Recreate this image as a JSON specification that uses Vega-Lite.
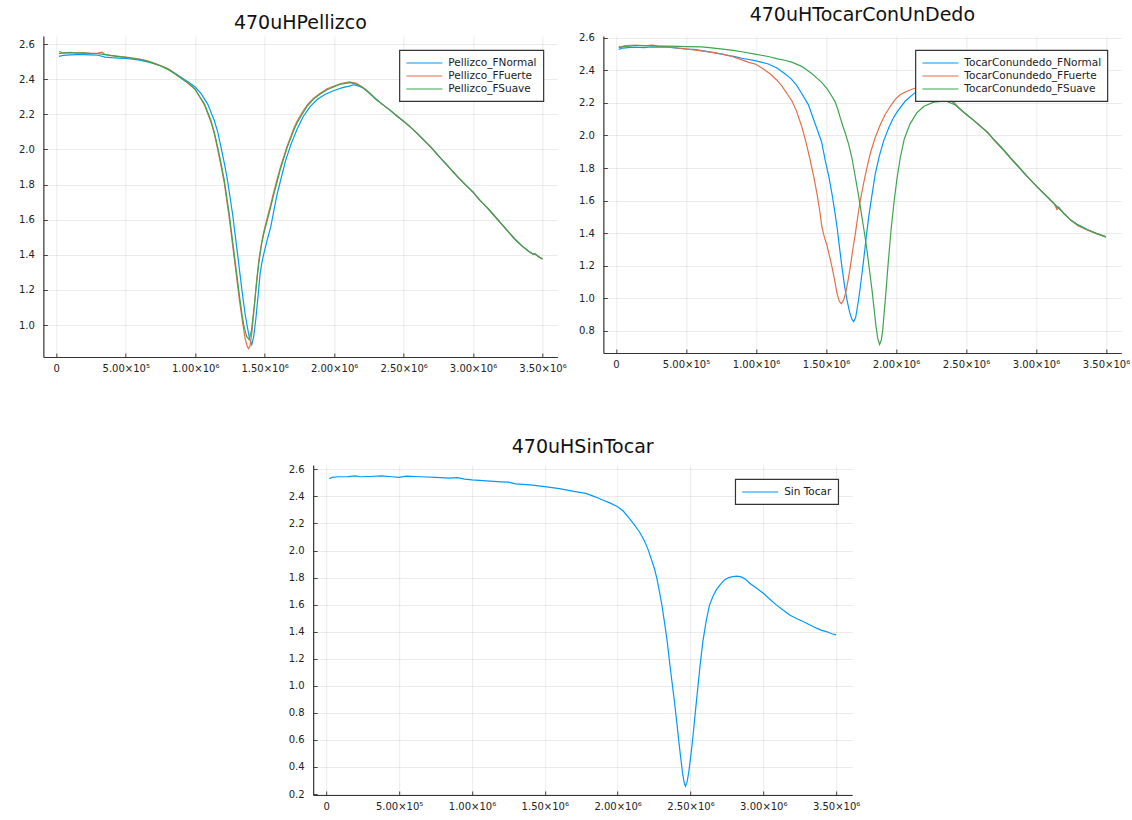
{
  "$schema": "https://vega.github.io/schema/vega-lite/v6.json",
  "padding": {"left": 18, "top": 5, "right": 0, "bottom": 0},
  "background": "white",
  "config": {
    "view": {"stroke": null},
    "font": "DejaVu Sans",
    "title": {"font": "DejaVu Sans", "fontSize": 19, "fontWeight": "normal", "color": "#111", "anchor": "middle"},
    "axis": {"labelFont": "DejaVu Sans", "labelFontSize": 10, "labelColor": "#222", "domainColor": "#333", "domainWidth": 1.2, "tickColor": "#444", "tickSize": -4, "gridColor": "#000", "gridOpacity": 0.08, "gridWidth": 1, "labelOverlap": false, "labelFlush": false},
    "axisX": {"labelPadding": 10},
    "axisY": {"labelPadding": 13},
    "legend": {"orient": "top-right", "offset": 14, "strokeColor": "#333", "fillColor": "white", "padding": 6, "symbolType": "M-1,0L5,0", "symbolSize": 144, "symbolStrokeWidth": 1.5, "labelFont": "DejaVu Sans", "labelFontSize": 10.5, "labelColor": "#222", "rowPadding": 0, "labelOffset": 29, "cornerRadius": 0, "strokeWidth": 1.2},
    "line": {"strokeWidth": 1.2}
  },
  "datasets": {
    "pellizco": [
      {"s":"Pellizco_FNormal","x":20000,"y":2.53},{"s":"Pellizco_FNormal","x":50000,"y":2.535},{"s":"Pellizco_FNormal","x":100000,"y":2.538},{"s":"Pellizco_FNormal","x":150000,"y":2.54},{"s":"Pellizco_FNormal","x":200000,"y":2.54},{"s":"Pellizco_FNormal","x":250000,"y":2.538},{"s":"Pellizco_FNormal","x":300000,"y":2.536},{"s":"Pellizco_FNormal","x":350000,"y":2.525},{"s":"Pellizco_FNormal","x":400000,"y":2.522},{"s":"Pellizco_FNormal","x":450000,"y":2.52},{"s":"Pellizco_FNormal","x":500000,"y":2.518},{"s":"Pellizco_FNormal","x":550000,"y":2.514},{"s":"Pellizco_FNormal","x":600000,"y":2.508},{"s":"Pellizco_FNormal","x":650000,"y":2.5},{"s":"Pellizco_FNormal","x":700000,"y":2.49},{"s":"Pellizco_FNormal","x":750000,"y":2.476},{"s":"Pellizco_FNormal","x":800000,"y":2.46},{"s":"Pellizco_FNormal","x":850000,"y":2.437},{"s":"Pellizco_FNormal","x":900000,"y":2.41},{"s":"Pellizco_FNormal","x":950000,"y":2.384},{"s":"Pellizco_FNormal","x":1000000,"y":2.355},{"s":"Pellizco_FNormal","x":1040000,"y":2.32},{"s":"Pellizco_FNormal","x":1090000,"y":2.258},{"s":"Pellizco_FNormal","x":1138000,"y":2.163},{"s":"Pellizco_FNormal","x":1162000,"y":2.1},{"s":"Pellizco_FNormal","x":1186000,"y":2.011},{"s":"Pellizco_FNormal","x":1210000,"y":1.92},{"s":"Pellizco_FNormal","x":1233000,"y":1.822},{"s":"Pellizco_FNormal","x":1269000,"y":1.632},{"s":"Pellizco_FNormal","x":1305000,"y":1.404},{"s":"Pellizco_FNormal","x":1340000,"y":1.176},{"s":"Pellizco_FNormal","x":1360000,"y":1.06},{"s":"Pellizco_FNormal","x":1376000,"y":0.987},{"s":"Pellizco_FNormal","x":1392000,"y":0.92},{"s":"Pellizco_FNormal","x":1407000,"y":0.888},{"s":"Pellizco_FNormal","x":1420000,"y":0.93},{"s":"Pellizco_FNormal","x":1436000,"y":1.03},{"s":"Pellizco_FNormal","x":1452000,"y":1.16},{"s":"Pellizco_FNormal","x":1467000,"y":1.29},{"s":"Pellizco_FNormal","x":1481000,"y":1.36},{"s":"Pellizco_FNormal","x":1495000,"y":1.41},{"s":"Pellizco_FNormal","x":1520000,"y":1.49},{"s":"Pellizco_FNormal","x":1543000,"y":1.556},{"s":"Pellizco_FNormal","x":1566000,"y":1.65},{"s":"Pellizco_FNormal","x":1590000,"y":1.746},{"s":"Pellizco_FNormal","x":1620000,"y":1.84},{"s":"Pellizco_FNormal","x":1650000,"y":1.935},{"s":"Pellizco_FNormal","x":1690000,"y":2.03},{"s":"Pellizco_FNormal","x":1733000,"y":2.115},{"s":"Pellizco_FNormal","x":1780000,"y":2.19},{"s":"Pellizco_FNormal","x":1829000,"y":2.245},{"s":"Pellizco_FNormal","x":1880000,"y":2.285},{"s":"Pellizco_FNormal","x":1940000,"y":2.315},{"s":"Pellizco_FNormal","x":2000000,"y":2.335},{"s":"Pellizco_FNormal","x":2060000,"y":2.352},{"s":"Pellizco_FNormal","x":2110000,"y":2.36},{"s":"Pellizco_FNormal","x":2140000,"y":2.368},{"s":"Pellizco_FNormal","x":2180000,"y":2.36},{"s":"Pellizco_FNormal","x":2220000,"y":2.345},{"s":"Pellizco_FNormal","x":2260000,"y":2.318},{"s":"Pellizco_FNormal","x":2300000,"y":2.288},{"s":"Pellizco_FNormal","x":2350000,"y":2.255},{"s":"Pellizco_FNormal","x":2400000,"y":2.225},{"s":"Pellizco_FNormal","x":2450000,"y":2.192},{"s":"Pellizco_FNormal","x":2500000,"y":2.16},{"s":"Pellizco_FNormal","x":2550000,"y":2.127},{"s":"Pellizco_FNormal","x":2600000,"y":2.09},{"s":"Pellizco_FNormal","x":2650000,"y":2.05},{"s":"Pellizco_FNormal","x":2700000,"y":2.01},{"s":"Pellizco_FNormal","x":2750000,"y":1.965},{"s":"Pellizco_FNormal","x":2800000,"y":1.922},{"s":"Pellizco_FNormal","x":2850000,"y":1.878},{"s":"Pellizco_FNormal","x":2900000,"y":1.835},{"s":"Pellizco_FNormal","x":2950000,"y":1.795},{"s":"Pellizco_FNormal","x":3000000,"y":1.757},{"s":"Pellizco_FNormal","x":3050000,"y":1.71},{"s":"Pellizco_FNormal","x":3100000,"y":1.67},{"s":"Pellizco_FNormal","x":3150000,"y":1.625},{"s":"Pellizco_FNormal","x":3200000,"y":1.58},{"s":"Pellizco_FNormal","x":3250000,"y":1.535},{"s":"Pellizco_FNormal","x":3300000,"y":1.49},{"s":"Pellizco_FNormal","x":3350000,"y":1.452},{"s":"Pellizco_FNormal","x":3400000,"y":1.42},{"s":"Pellizco_FNormal","x":3430000,"y":1.405},{"s":"Pellizco_FNormal","x":3450000,"y":1.404},{"s":"Pellizco_FNormal","x":3470000,"y":1.39},{"s":"Pellizco_FNormal","x":3500000,"y":1.376},
      {"s":"Pellizco_FFuerte","x":20000,"y":2.557},{"s":"Pellizco_FFuerte","x":50000,"y":2.548},{"s":"Pellizco_FFuerte","x":100000,"y":2.552},{"s":"Pellizco_FFuerte","x":150000,"y":2.55},{"s":"Pellizco_FFuerte","x":200000,"y":2.549},{"s":"Pellizco_FFuerte","x":250000,"y":2.547},{"s":"Pellizco_FFuerte","x":300000,"y":2.548},{"s":"Pellizco_FFuerte","x":330000,"y":2.553},{"s":"Pellizco_FFuerte","x":350000,"y":2.54},{"s":"Pellizco_FFuerte","x":400000,"y":2.534},{"s":"Pellizco_FFuerte","x":450000,"y":2.53},{"s":"Pellizco_FFuerte","x":500000,"y":2.525},{"s":"Pellizco_FFuerte","x":550000,"y":2.52},{"s":"Pellizco_FFuerte","x":600000,"y":2.514},{"s":"Pellizco_FFuerte","x":650000,"y":2.505},{"s":"Pellizco_FFuerte","x":700000,"y":2.493},{"s":"Pellizco_FFuerte","x":750000,"y":2.478},{"s":"Pellizco_FFuerte","x":800000,"y":2.46},{"s":"Pellizco_FFuerte","x":820000,"y":2.452},{"s":"Pellizco_FFuerte","x":850000,"y":2.434},{"s":"Pellizco_FFuerte","x":900000,"y":2.405},{"s":"Pellizco_FFuerte","x":950000,"y":2.376},{"s":"Pellizco_FFuerte","x":1000000,"y":2.34},{"s":"Pellizco_FFuerte","x":1033000,"y":2.298},{"s":"Pellizco_FFuerte","x":1067000,"y":2.252},{"s":"Pellizco_FFuerte","x":1114000,"y":2.155},{"s":"Pellizco_FFuerte","x":1140000,"y":2.08},{"s":"Pellizco_FFuerte","x":1162000,"y":2.0},{"s":"Pellizco_FFuerte","x":1186000,"y":1.905},{"s":"Pellizco_FFuerte","x":1210000,"y":1.805},{"s":"Pellizco_FFuerte","x":1245000,"y":1.61},{"s":"Pellizco_FFuerte","x":1281000,"y":1.38},{"s":"Pellizco_FFuerte","x":1317000,"y":1.15},{"s":"Pellizco_FFuerte","x":1340000,"y":1.02},{"s":"Pellizco_FFuerte","x":1360000,"y":0.92},{"s":"Pellizco_FFuerte","x":1376000,"y":0.875},{"s":"Pellizco_FFuerte","x":1385000,"y":0.866},{"s":"Pellizco_FFuerte","x":1395000,"y":0.88},{"s":"Pellizco_FFuerte","x":1410000,"y":0.97},{"s":"Pellizco_FFuerte","x":1424000,"y":1.09},{"s":"Pellizco_FFuerte","x":1442000,"y":1.25},{"s":"Pellizco_FFuerte","x":1460000,"y":1.38},{"s":"Pellizco_FFuerte","x":1478000,"y":1.47},{"s":"Pellizco_FFuerte","x":1495000,"y":1.535},{"s":"Pellizco_FFuerte","x":1520000,"y":1.615},{"s":"Pellizco_FFuerte","x":1543000,"y":1.685},{"s":"Pellizco_FFuerte","x":1566000,"y":1.76},{"s":"Pellizco_FFuerte","x":1590000,"y":1.83},{"s":"Pellizco_FFuerte","x":1614000,"y":1.9},{"s":"Pellizco_FFuerte","x":1638000,"y":1.96},{"s":"Pellizco_FFuerte","x":1662000,"y":2.02},{"s":"Pellizco_FFuerte","x":1686000,"y":2.07},{"s":"Pellizco_FFuerte","x":1710000,"y":2.12},{"s":"Pellizco_FFuerte","x":1733000,"y":2.16},{"s":"Pellizco_FFuerte","x":1770000,"y":2.21},{"s":"Pellizco_FFuerte","x":1805000,"y":2.252},{"s":"Pellizco_FFuerte","x":1850000,"y":2.29},{"s":"Pellizco_FFuerte","x":1900000,"y":2.32},{"s":"Pellizco_FFuerte","x":1950000,"y":2.345},{"s":"Pellizco_FFuerte","x":2000000,"y":2.36},{"s":"Pellizco_FFuerte","x":2050000,"y":2.375},{"s":"Pellizco_FFuerte","x":2110000,"y":2.384},{"s":"Pellizco_FFuerte","x":2160000,"y":2.376},{"s":"Pellizco_FFuerte","x":2200000,"y":2.357},{"s":"Pellizco_FFuerte","x":2250000,"y":2.325},{"s":"Pellizco_FFuerte","x":2300000,"y":2.286},{"s":"Pellizco_FFuerte","x":2350000,"y":2.255},{"s":"Pellizco_FFuerte","x":2400000,"y":2.225},{"s":"Pellizco_FFuerte","x":2450000,"y":2.192},{"s":"Pellizco_FFuerte","x":2500000,"y":2.16},{"s":"Pellizco_FFuerte","x":2550000,"y":2.127},{"s":"Pellizco_FFuerte","x":2600000,"y":2.088},{"s":"Pellizco_FFuerte","x":2650000,"y":2.05},{"s":"Pellizco_FFuerte","x":2700000,"y":2.01},{"s":"Pellizco_FFuerte","x":2750000,"y":1.965},{"s":"Pellizco_FFuerte","x":2800000,"y":1.922},{"s":"Pellizco_FFuerte","x":2850000,"y":1.878},{"s":"Pellizco_FFuerte","x":2900000,"y":1.835},{"s":"Pellizco_FFuerte","x":2950000,"y":1.795},{"s":"Pellizco_FFuerte","x":3000000,"y":1.757},{"s":"Pellizco_FFuerte","x":3050000,"y":1.71},{"s":"Pellizco_FFuerte","x":3100000,"y":1.67},{"s":"Pellizco_FFuerte","x":3150000,"y":1.625},{"s":"Pellizco_FFuerte","x":3200000,"y":1.58},{"s":"Pellizco_FFuerte","x":3250000,"y":1.535},{"s":"Pellizco_FFuerte","x":3300000,"y":1.49},{"s":"Pellizco_FFuerte","x":3350000,"y":1.452},{"s":"Pellizco_FFuerte","x":3400000,"y":1.42},{"s":"Pellizco_FFuerte","x":3430000,"y":1.405},{"s":"Pellizco_FFuerte","x":3450000,"y":1.403},{"s":"Pellizco_FFuerte","x":3470000,"y":1.39},{"s":"Pellizco_FFuerte","x":3500000,"y":1.376},
      {"s":"Pellizco_FSuave","x":20000,"y":2.545},{"s":"Pellizco_FSuave","x":50000,"y":2.55},{"s":"Pellizco_FSuave","x":100000,"y":2.551},{"s":"Pellizco_FSuave","x":150000,"y":2.548},{"s":"Pellizco_FSuave","x":200000,"y":2.55},{"s":"Pellizco_FSuave","x":250000,"y":2.546},{"s":"Pellizco_FSuave","x":300000,"y":2.545},{"s":"Pellizco_FSuave","x":350000,"y":2.54},{"s":"Pellizco_FSuave","x":400000,"y":2.534},{"s":"Pellizco_FSuave","x":450000,"y":2.528},{"s":"Pellizco_FSuave","x":500000,"y":2.524},{"s":"Pellizco_FSuave","x":550000,"y":2.519},{"s":"Pellizco_FSuave","x":600000,"y":2.512},{"s":"Pellizco_FSuave","x":650000,"y":2.503},{"s":"Pellizco_FSuave","x":700000,"y":2.49},{"s":"Pellizco_FSuave","x":750000,"y":2.475},{"s":"Pellizco_FSuave","x":800000,"y":2.457},{"s":"Pellizco_FSuave","x":850000,"y":2.432},{"s":"Pellizco_FSuave","x":900000,"y":2.405},{"s":"Pellizco_FSuave","x":950000,"y":2.377},{"s":"Pellizco_FSuave","x":1000000,"y":2.343},{"s":"Pellizco_FSuave","x":1033000,"y":2.3},{"s":"Pellizco_FSuave","x":1067000,"y":2.258},{"s":"Pellizco_FSuave","x":1114000,"y":2.163},{"s":"Pellizco_FSuave","x":1140000,"y":2.09},{"s":"Pellizco_FSuave","x":1162000,"y":2.011},{"s":"Pellizco_FSuave","x":1186000,"y":1.92},{"s":"Pellizco_FSuave","x":1210000,"y":1.822},{"s":"Pellizco_FSuave","x":1245000,"y":1.632},{"s":"Pellizco_FSuave","x":1281000,"y":1.404},{"s":"Pellizco_FSuave","x":1317000,"y":1.176},{"s":"Pellizco_FSuave","x":1337000,"y":1.06},{"s":"Pellizco_FSuave","x":1352000,"y":0.99},{"s":"Pellizco_FSuave","x":1370000,"y":0.935},{"s":"Pellizco_FSuave","x":1388000,"y":0.918},{"s":"Pellizco_FSuave","x":1405000,"y":0.97},{"s":"Pellizco_FSuave","x":1424000,"y":1.1},{"s":"Pellizco_FSuave","x":1442000,"y":1.24},{"s":"Pellizco_FSuave","x":1460000,"y":1.366},{"s":"Pellizco_FSuave","x":1478000,"y":1.46},{"s":"Pellizco_FSuave","x":1495000,"y":1.525},{"s":"Pellizco_FSuave","x":1520000,"y":1.6},{"s":"Pellizco_FSuave","x":1543000,"y":1.67},{"s":"Pellizco_FSuave","x":1566000,"y":1.745},{"s":"Pellizco_FSuave","x":1590000,"y":1.815},{"s":"Pellizco_FSuave","x":1614000,"y":1.89},{"s":"Pellizco_FSuave","x":1638000,"y":1.95},{"s":"Pellizco_FSuave","x":1662000,"y":2.01},{"s":"Pellizco_FSuave","x":1686000,"y":2.06},{"s":"Pellizco_FSuave","x":1710000,"y":2.11},{"s":"Pellizco_FSuave","x":1733000,"y":2.15},{"s":"Pellizco_FSuave","x":1770000,"y":2.2},{"s":"Pellizco_FSuave","x":1805000,"y":2.245},{"s":"Pellizco_FSuave","x":1850000,"y":2.285},{"s":"Pellizco_FSuave","x":1900000,"y":2.315},{"s":"Pellizco_FSuave","x":1950000,"y":2.34},{"s":"Pellizco_FSuave","x":2000000,"y":2.357},{"s":"Pellizco_FSuave","x":2050000,"y":2.372},{"s":"Pellizco_FSuave","x":2115000,"y":2.38},{"s":"Pellizco_FSuave","x":2160000,"y":2.372},{"s":"Pellizco_FSuave","x":2200000,"y":2.355},{"s":"Pellizco_FSuave","x":2250000,"y":2.322},{"s":"Pellizco_FSuave","x":2300000,"y":2.285},{"s":"Pellizco_FSuave","x":2350000,"y":2.255},{"s":"Pellizco_FSuave","x":2400000,"y":2.225},{"s":"Pellizco_FSuave","x":2450000,"y":2.192},{"s":"Pellizco_FSuave","x":2500000,"y":2.16},{"s":"Pellizco_FSuave","x":2550000,"y":2.127},{"s":"Pellizco_FSuave","x":2600000,"y":2.09},{"s":"Pellizco_FSuave","x":2650000,"y":2.05},{"s":"Pellizco_FSuave","x":2700000,"y":2.01},{"s":"Pellizco_FSuave","x":2750000,"y":1.965},{"s":"Pellizco_FSuave","x":2800000,"y":1.922},{"s":"Pellizco_FSuave","x":2850000,"y":1.878},{"s":"Pellizco_FSuave","x":2900000,"y":1.835},{"s":"Pellizco_FSuave","x":2950000,"y":1.795},{"s":"Pellizco_FSuave","x":3000000,"y":1.757},{"s":"Pellizco_FSuave","x":3050000,"y":1.71},{"s":"Pellizco_FSuave","x":3100000,"y":1.67},{"s":"Pellizco_FSuave","x":3150000,"y":1.625},{"s":"Pellizco_FSuave","x":3200000,"y":1.58},{"s":"Pellizco_FSuave","x":3250000,"y":1.535},{"s":"Pellizco_FSuave","x":3300000,"y":1.49},{"s":"Pellizco_FSuave","x":3350000,"y":1.452},{"s":"Pellizco_FSuave","x":3400000,"y":1.42},{"s":"Pellizco_FSuave","x":3430000,"y":1.405},{"s":"Pellizco_FSuave","x":3450000,"y":1.402},{"s":"Pellizco_FSuave","x":3470000,"y":1.39},{"s":"Pellizco_FSuave","x":3500000,"y":1.376}
    ],
    "tocar": [
      {"s":"TocarConundedo_FNormal","x":20000,"y":2.53},{"s":"TocarConundedo_FNormal","x":50000,"y":2.538},{"s":"TocarConundedo_FNormal","x":100000,"y":2.542},{"s":"TocarConundedo_FNormal","x":136000,"y":2.543},{"s":"TocarConundedo_FNormal","x":200000,"y":2.54},{"s":"TocarConundedo_FNormal","x":250000,"y":2.545},{"s":"TocarConundedo_FNormal","x":300000,"y":2.543},{"s":"TocarConundedo_FNormal","x":374000,"y":2.543},{"s":"TocarConundedo_FNormal","x":450000,"y":2.535},{"s":"TocarConundedo_FNormal","x":500000,"y":2.532},{"s":"TocarConundedo_FNormal","x":560000,"y":2.53},{"s":"TocarConundedo_FNormal","x":612000,"y":2.522},{"s":"TocarConundedo_FNormal","x":700000,"y":2.51},{"s":"TocarConundedo_FNormal","x":779000,"y":2.496},{"s":"TocarConundedo_FNormal","x":850000,"y":2.485},{"s":"TocarConundedo_FNormal","x":900000,"y":2.475},{"s":"TocarConundedo_FNormal","x":993000,"y":2.46},{"s":"TocarConundedo_FNormal","x":1088000,"y":2.44},{"s":"TocarConundedo_FNormal","x":1150000,"y":2.415},{"s":"TocarConundedo_FNormal","x":1207000,"y":2.38},{"s":"TocarConundedo_FNormal","x":1250000,"y":2.35},{"s":"TocarConundedo_FNormal","x":1290000,"y":2.31},{"s":"TocarConundedo_FNormal","x":1329000,"y":2.255},{"s":"TocarConundedo_FNormal","x":1374000,"y":2.19},{"s":"TocarConundedo_FNormal","x":1424000,"y":2.069},{"s":"TocarConundedo_FNormal","x":1469000,"y":1.96},{"s":"TocarConundedo_FNormal","x":1495000,"y":1.845},{"s":"TocarConundedo_FNormal","x":1520000,"y":1.75},{"s":"TocarConundedo_FNormal","x":1543000,"y":1.641},{"s":"TocarConundedo_FNormal","x":1560000,"y":1.55},{"s":"TocarConundedo_FNormal","x":1579000,"y":1.437},{"s":"TocarConundedo_FNormal","x":1597000,"y":1.31},{"s":"TocarConundedo_FNormal","x":1614000,"y":1.192},{"s":"TocarConundedo_FNormal","x":1632000,"y":1.08},{"s":"TocarConundedo_FNormal","x":1650000,"y":0.988},{"s":"TocarConundedo_FNormal","x":1670000,"y":0.91},{"s":"TocarConundedo_FNormal","x":1685000,"y":0.87},{"s":"TocarConundedo_FNormal","x":1698000,"y":0.855},{"s":"TocarConundedo_FNormal","x":1712000,"y":0.88},{"s":"TocarConundedo_FNormal","x":1733000,"y":0.988},{"s":"TocarConundedo_FNormal","x":1750000,"y":1.1},{"s":"TocarConundedo_FNormal","x":1769000,"y":1.233},{"s":"TocarConundedo_FNormal","x":1787000,"y":1.37},{"s":"TocarConundedo_FNormal","x":1805000,"y":1.498},{"s":"TocarConundedo_FNormal","x":1828000,"y":1.63},{"s":"TocarConundedo_FNormal","x":1852000,"y":1.763},{"s":"TocarConundedo_FNormal","x":1880000,"y":1.87},{"s":"TocarConundedo_FNormal","x":1912000,"y":1.967},{"s":"TocarConundedo_FNormal","x":1950000,"y":2.05},{"s":"TocarConundedo_FNormal","x":1983000,"y":2.11},{"s":"TocarConundedo_FNormal","x":2012000,"y":2.15},{"s":"TocarConundedo_FNormal","x":2067000,"y":2.212},{"s":"TocarConundedo_FNormal","x":2138000,"y":2.265},{"s":"TocarConundedo_FNormal","x":2200000,"y":2.29},{"s":"TocarConundedo_FNormal","x":2260000,"y":2.295},{"s":"TocarConundedo_FNormal","x":2310000,"y":2.28},{"s":"TocarConundedo_FNormal","x":2345000,"y":2.26},{"s":"TocarConundedo_FNormal","x":2400000,"y":2.21},{"s":"TocarConundedo_FNormal","x":2450000,"y":2.17},{"s":"TocarConundedo_FNormal","x":2488000,"y":2.14},{"s":"TocarConundedo_FNormal","x":2560000,"y":2.09},{"s":"TocarConundedo_FNormal","x":2655000,"y":2.018},{"s":"TocarConundedo_FNormal","x":2700000,"y":1.975},{"s":"TocarConundedo_FNormal","x":2774000,"y":1.906},{"s":"TocarConundedo_FNormal","x":2820000,"y":1.86},{"s":"TocarConundedo_FNormal","x":2869000,"y":1.814},{"s":"TocarConundedo_FNormal","x":2930000,"y":1.755},{"s":"TocarConundedo_FNormal","x":3000000,"y":1.692},{"s":"TocarConundedo_FNormal","x":3060000,"y":1.64},{"s":"TocarConundedo_FNormal","x":3131000,"y":1.58},{"s":"TocarConundedo_FNormal","x":3150000,"y":1.555},{"s":"TocarConundedo_FNormal","x":3160000,"y":1.56},{"s":"TocarConundedo_FNormal","x":3200000,"y":1.52},{"s":"TocarConundedo_FNormal","x":3250000,"y":1.478},{"s":"TocarConundedo_FNormal","x":3300000,"y":1.45},{"s":"TocarConundedo_FNormal","x":3369000,"y":1.42},{"s":"TocarConundedo_FNormal","x":3430000,"y":1.398},{"s":"TocarConundedo_FNormal","x":3500000,"y":1.376},
      {"s":"TocarConundedo_FFuerte","x":20000,"y":2.55},{"s":"TocarConundedo_FFuerte","x":40000,"y":2.54},{"s":"TocarConundedo_FFuerte","x":60000,"y":2.552},{"s":"TocarConundedo_FFuerte","x":100000,"y":2.555},{"s":"TocarConundedo_FFuerte","x":136000,"y":2.555},{"s":"TocarConundedo_FFuerte","x":200000,"y":2.552},{"s":"TocarConundedo_FFuerte","x":260000,"y":2.556},{"s":"TocarConundedo_FFuerte","x":300000,"y":2.55},{"s":"TocarConundedo_FFuerte","x":374000,"y":2.545},{"s":"TocarConundedo_FFuerte","x":450000,"y":2.538},{"s":"TocarConundedo_FFuerte","x":530000,"y":2.53},{"s":"TocarConundedo_FFuerte","x":612000,"y":2.52},{"s":"TocarConundedo_FFuerte","x":700000,"y":2.51},{"s":"TocarConundedo_FFuerte","x":779000,"y":2.498},{"s":"TocarConundedo_FFuerte","x":850000,"y":2.48},{"s":"TocarConundedo_FFuerte","x":900000,"y":2.465},{"s":"TocarConundedo_FFuerte","x":948000,"y":2.45},{"s":"TocarConundedo_FFuerte","x":1000000,"y":2.438},{"s":"TocarConundedo_FFuerte","x":1050000,"y":2.41},{"s":"TocarConundedo_FFuerte","x":1100000,"y":2.38},{"s":"TocarConundedo_FFuerte","x":1150000,"y":2.34},{"s":"TocarConundedo_FFuerte","x":1186000,"y":2.304},{"s":"TocarConundedo_FFuerte","x":1220000,"y":2.26},{"s":"TocarConundedo_FFuerte","x":1257000,"y":2.212},{"s":"TocarConundedo_FFuerte","x":1290000,"y":2.15},{"s":"TocarConundedo_FFuerte","x":1329000,"y":2.05},{"s":"TocarConundedo_FFuerte","x":1360000,"y":1.95},{"s":"TocarConundedo_FFuerte","x":1388000,"y":1.845},{"s":"TocarConundedo_FFuerte","x":1412000,"y":1.75},{"s":"TocarConundedo_FFuerte","x":1436000,"y":1.641},{"s":"TocarConundedo_FFuerte","x":1455000,"y":1.54},{"s":"TocarConundedo_FFuerte","x":1471000,"y":1.437},{"s":"TocarConundedo_FFuerte","x":1490000,"y":1.37},{"s":"TocarConundedo_FFuerte","x":1507000,"y":1.325},{"s":"TocarConundedo_FFuerte","x":1525000,"y":1.26},{"s":"TocarConundedo_FFuerte","x":1543000,"y":1.192},{"s":"TocarConundedo_FFuerte","x":1562000,"y":1.11},{"s":"TocarConundedo_FFuerte","x":1579000,"y":1.029},{"s":"TocarConundedo_FFuerte","x":1595000,"y":0.98},{"s":"TocarConundedo_FFuerte","x":1610000,"y":0.965},{"s":"TocarConundedo_FFuerte","x":1627000,"y":0.99},{"s":"TocarConundedo_FFuerte","x":1643000,"y":1.04},{"s":"TocarConundedo_FFuerte","x":1660000,"y":1.12},{"s":"TocarConundedo_FFuerte","x":1674000,"y":1.192},{"s":"TocarConundedo_FFuerte","x":1692000,"y":1.3},{"s":"TocarConundedo_FFuerte","x":1710000,"y":1.396},{"s":"TocarConundedo_FFuerte","x":1727000,"y":1.5},{"s":"TocarConundedo_FFuerte","x":1745000,"y":1.6},{"s":"TocarConundedo_FFuerte","x":1770000,"y":1.71},{"s":"TocarConundedo_FFuerte","x":1793000,"y":1.804},{"s":"TocarConundedo_FFuerte","x":1820000,"y":1.9},{"s":"TocarConundedo_FFuerte","x":1852000,"y":1.988},{"s":"TocarConundedo_FFuerte","x":1890000,"y":2.07},{"s":"TocarConundedo_FFuerte","x":1924000,"y":2.131},{"s":"TocarConundedo_FFuerte","x":1960000,"y":2.18},{"s":"TocarConundedo_FFuerte","x":1995000,"y":2.222},{"s":"TocarConundedo_FFuerte","x":2030000,"y":2.25},{"s":"TocarConundedo_FFuerte","x":2067000,"y":2.268},{"s":"TocarConundedo_FFuerte","x":2100000,"y":2.28},{"s":"TocarConundedo_FFuerte","x":2150000,"y":2.295},{"s":"TocarConundedo_FFuerte","x":2200000,"y":2.3},{"s":"TocarConundedo_FFuerte","x":2250000,"y":2.295},{"s":"TocarConundedo_FFuerte","x":2300000,"y":2.28},{"s":"TocarConundedo_FFuerte","x":2345000,"y":2.262},{"s":"TocarConundedo_FFuerte","x":2400000,"y":2.215},{"s":"TocarConundedo_FFuerte","x":2450000,"y":2.17},{"s":"TocarConundedo_FFuerte","x":2488000,"y":2.14},{"s":"TocarConundedo_FFuerte","x":2560000,"y":2.09},{"s":"TocarConundedo_FFuerte","x":2655000,"y":2.02},{"s":"TocarConundedo_FFuerte","x":2700000,"y":1.972},{"s":"TocarConundedo_FFuerte","x":2774000,"y":1.906},{"s":"TocarConundedo_FFuerte","x":2820000,"y":1.86},{"s":"TocarConundedo_FFuerte","x":2869000,"y":1.814},{"s":"TocarConundedo_FFuerte","x":2930000,"y":1.755},{"s":"TocarConundedo_FFuerte","x":3000000,"y":1.692},{"s":"TocarConundedo_FFuerte","x":3060000,"y":1.64},{"s":"TocarConundedo_FFuerte","x":3131000,"y":1.58},{"s":"TocarConundedo_FFuerte","x":3150000,"y":1.545},{"s":"TocarConundedo_FFuerte","x":3165000,"y":1.555},{"s":"TocarConundedo_FFuerte","x":3200000,"y":1.52},{"s":"TocarConundedo_FFuerte","x":3250000,"y":1.478},{"s":"TocarConundedo_FFuerte","x":3300000,"y":1.445},{"s":"TocarConundedo_FFuerte","x":3369000,"y":1.418},{"s":"TocarConundedo_FFuerte","x":3430000,"y":1.398},{"s":"TocarConundedo_FFuerte","x":3500000,"y":1.376},
      {"s":"TocarConundedo_FSuave","x":20000,"y":2.54},{"s":"TocarConundedo_FSuave","x":50000,"y":2.548},{"s":"TocarConundedo_FSuave","x":100000,"y":2.55},{"s":"TocarConundedo_FSuave","x":136000,"y":2.555},{"s":"TocarConundedo_FSuave","x":200000,"y":2.553},{"s":"TocarConundedo_FSuave","x":260000,"y":2.552},{"s":"TocarConundedo_FSuave","x":300000,"y":2.55},{"s":"TocarConundedo_FSuave","x":374000,"y":2.55},{"s":"TocarConundedo_FSuave","x":450000,"y":2.548},{"s":"TocarConundedo_FSuave","x":500000,"y":2.547},{"s":"TocarConundedo_FSuave","x":612000,"y":2.545},{"s":"TocarConundedo_FSuave","x":700000,"y":2.537},{"s":"TocarConundedo_FSuave","x":779000,"y":2.53},{"s":"TocarConundedo_FSuave","x":850000,"y":2.522},{"s":"TocarConundedo_FSuave","x":900000,"y":2.515},{"s":"TocarConundedo_FSuave","x":993000,"y":2.5},{"s":"TocarConundedo_FSuave","x":1088000,"y":2.486},{"s":"TocarConundedo_FSuave","x":1162000,"y":2.47},{"s":"TocarConundedo_FSuave","x":1207000,"y":2.463},{"s":"TocarConundedo_FSuave","x":1260000,"y":2.45},{"s":"TocarConundedo_FSuave","x":1326000,"y":2.425},{"s":"TocarConundedo_FSuave","x":1352000,"y":2.41},{"s":"TocarConundedo_FSuave","x":1400000,"y":2.38},{"s":"TocarConundedo_FSuave","x":1440000,"y":2.35},{"s":"TocarConundedo_FSuave","x":1471000,"y":2.325},{"s":"TocarConundedo_FSuave","x":1510000,"y":2.285},{"s":"TocarConundedo_FSuave","x":1543000,"y":2.24},{"s":"TocarConundedo_FSuave","x":1564000,"y":2.21},{"s":"TocarConundedo_FSuave","x":1585000,"y":2.16},{"s":"TocarConundedo_FSuave","x":1602000,"y":2.11},{"s":"TocarConundedo_FSuave","x":1620000,"y":2.06},{"s":"TocarConundedo_FSuave","x":1636000,"y":2.02},{"s":"TocarConundedo_FSuave","x":1662000,"y":1.947},{"s":"TocarConundedo_FSuave","x":1686000,"y":1.86},{"s":"TocarConundedo_FSuave","x":1710000,"y":1.743},{"s":"TocarConundedo_FSuave","x":1733000,"y":1.63},{"s":"TocarConundedo_FSuave","x":1757000,"y":1.498},{"s":"TocarConundedo_FSuave","x":1775000,"y":1.4},{"s":"TocarConundedo_FSuave","x":1793000,"y":1.294},{"s":"TocarConundedo_FSuave","x":1811000,"y":1.17},{"s":"TocarConundedo_FSuave","x":1829000,"y":1.049},{"s":"TocarConundedo_FSuave","x":1843000,"y":0.94},{"s":"TocarConundedo_FSuave","x":1857000,"y":0.83},{"s":"TocarConundedo_FSuave","x":1870000,"y":0.75},{"s":"TocarConundedo_FSuave","x":1883000,"y":0.715},{"s":"TocarConundedo_FSuave","x":1895000,"y":0.74},{"s":"TocarConundedo_FSuave","x":1905000,"y":0.8},{"s":"TocarConundedo_FSuave","x":1915000,"y":0.9},{"s":"TocarConundedo_FSuave","x":1925000,"y":1.0},{"s":"TocarConundedo_FSuave","x":1935000,"y":1.11},{"s":"TocarConundedo_FSuave","x":1945000,"y":1.22},{"s":"TocarConundedo_FSuave","x":1965000,"y":1.42},{"s":"TocarConundedo_FSuave","x":1985000,"y":1.58},{"s":"TocarConundedo_FSuave","x":2005000,"y":1.72},{"s":"TocarConundedo_FSuave","x":2030000,"y":1.86},{"s":"TocarConundedo_FSuave","x":2060000,"y":1.98},{"s":"TocarConundedo_FSuave","x":2100000,"y":2.07},{"s":"TocarConundedo_FSuave","x":2150000,"y":2.14},{"s":"TocarConundedo_FSuave","x":2200000,"y":2.18},{"s":"TocarConundedo_FSuave","x":2270000,"y":2.205},{"s":"TocarConundedo_FSuave","x":2357000,"y":2.212},{"s":"TocarConundedo_FSuave","x":2420000,"y":2.19},{"s":"TocarConundedo_FSuave","x":2488000,"y":2.14},{"s":"TocarConundedo_FSuave","x":2560000,"y":2.09},{"s":"TocarConundedo_FSuave","x":2655000,"y":2.018},{"s":"TocarConundedo_FSuave","x":2700000,"y":1.975},{"s":"TocarConundedo_FSuave","x":2774000,"y":1.906},{"s":"TocarConundedo_FSuave","x":2820000,"y":1.86},{"s":"TocarConundedo_FSuave","x":2869000,"y":1.814},{"s":"TocarConundedo_FSuave","x":2930000,"y":1.755},{"s":"TocarConundedo_FSuave","x":3000000,"y":1.692},{"s":"TocarConundedo_FSuave","x":3060000,"y":1.64},{"s":"TocarConundedo_FSuave","x":3131000,"y":1.58},{"s":"TocarConundedo_FSuave","x":3200000,"y":1.52},{"s":"TocarConundedo_FSuave","x":3250000,"y":1.478},{"s":"TocarConundedo_FSuave","x":3300000,"y":1.45},{"s":"TocarConundedo_FSuave","x":3369000,"y":1.42},{"s":"TocarConundedo_FSuave","x":3430000,"y":1.398},{"s":"TocarConundedo_FSuave","x":3500000,"y":1.376}
    ],
    "sin": [
      {"s":"Sin Tocar","x":20000,"y":2.53},{"s":"Sin Tocar","x":40000,"y":2.54},{"s":"Sin Tocar","x":80000,"y":2.545},{"s":"Sin Tocar","x":150000,"y":2.546},{"s":"Sin Tocar","x":200000,"y":2.552},{"s":"Sin Tocar","x":230000,"y":2.545},{"s":"Sin Tocar","x":300000,"y":2.547},{"s":"Sin Tocar","x":380000,"y":2.551},{"s":"Sin Tocar","x":450000,"y":2.545},{"s":"Sin Tocar","x":500000,"y":2.541},{"s":"Sin Tocar","x":550000,"y":2.55},{"s":"Sin Tocar","x":650000,"y":2.545},{"s":"Sin Tocar","x":750000,"y":2.54},{"s":"Sin Tocar","x":850000,"y":2.535},{"s":"Sin Tocar","x":900000,"y":2.538},{"s":"Sin Tocar","x":950000,"y":2.528},{"s":"Sin Tocar","x":1000000,"y":2.522},{"s":"Sin Tocar","x":1100000,"y":2.515},{"s":"Sin Tocar","x":1200000,"y":2.508},{"s":"Sin Tocar","x":1250000,"y":2.505},{"s":"Sin Tocar","x":1300000,"y":2.492},{"s":"Sin Tocar","x":1400000,"y":2.485},{"s":"Sin Tocar","x":1500000,"y":2.472},{"s":"Sin Tocar","x":1600000,"y":2.458},{"s":"Sin Tocar","x":1700000,"y":2.437},{"s":"Sin Tocar","x":1782000,"y":2.422},{"s":"Sin Tocar","x":1850000,"y":2.395},{"s":"Sin Tocar","x":1897000,"y":2.373},{"s":"Sin Tocar","x":1950000,"y":2.35},{"s":"Sin Tocar","x":2000000,"y":2.324},{"s":"Sin Tocar","x":2040000,"y":2.29},{"s":"Sin Tocar","x":2080000,"y":2.238},{"s":"Sin Tocar","x":2115000,"y":2.19},{"s":"Sin Tocar","x":2149000,"y":2.139},{"s":"Sin Tocar","x":2180000,"y":2.08},{"s":"Sin Tocar","x":2206000,"y":2.016},{"s":"Sin Tocar","x":2230000,"y":1.94},{"s":"Sin Tocar","x":2252000,"y":1.869},{"s":"Sin Tocar","x":2270000,"y":1.79},{"s":"Sin Tocar","x":2287000,"y":1.696},{"s":"Sin Tocar","x":2305000,"y":1.59},{"s":"Sin Tocar","x":2321000,"y":1.475},{"s":"Sin Tocar","x":2340000,"y":1.33},{"s":"Sin Tocar","x":2356000,"y":1.18},{"s":"Sin Tocar","x":2373000,"y":1.03},{"s":"Sin Tocar","x":2390000,"y":0.885},{"s":"Sin Tocar","x":2405000,"y":0.74},{"s":"Sin Tocar","x":2420000,"y":0.59},{"s":"Sin Tocar","x":2434000,"y":0.46},{"s":"Sin Tocar","x":2447000,"y":0.343},{"s":"Sin Tocar","x":2458000,"y":0.28},{"s":"Sin Tocar","x":2466000,"y":0.257},{"s":"Sin Tocar","x":2477000,"y":0.29},{"s":"Sin Tocar","x":2489000,"y":0.368},{"s":"Sin Tocar","x":2502000,"y":0.48},{"s":"Sin Tocar","x":2516000,"y":0.614},{"s":"Sin Tocar","x":2533000,"y":0.8},{"s":"Sin Tocar","x":2550000,"y":0.983},{"s":"Sin Tocar","x":2567000,"y":1.16},{"s":"Sin Tocar","x":2585000,"y":1.327},{"s":"Sin Tocar","x":2608000,"y":1.48},{"s":"Sin Tocar","x":2631000,"y":1.598},{"s":"Sin Tocar","x":2654000,"y":1.66},{"s":"Sin Tocar","x":2677000,"y":1.709},{"s":"Sin Tocar","x":2706000,"y":1.75},{"s":"Sin Tocar","x":2734000,"y":1.783},{"s":"Sin Tocar","x":2762000,"y":1.8},{"s":"Sin Tocar","x":2791000,"y":1.807},{"s":"Sin Tocar","x":2820000,"y":1.81},{"s":"Sin Tocar","x":2849000,"y":1.805},{"s":"Sin Tocar","x":2880000,"y":1.785},{"s":"Sin Tocar","x":2906000,"y":1.758},{"s":"Sin Tocar","x":2950000,"y":1.725},{"s":"Sin Tocar","x":3000000,"y":1.684},{"s":"Sin Tocar","x":3045000,"y":1.64},{"s":"Sin Tocar","x":3089000,"y":1.598},{"s":"Sin Tocar","x":3135000,"y":1.56},{"s":"Sin Tocar","x":3181000,"y":1.524},{"s":"Sin Tocar","x":3227000,"y":1.497},{"s":"Sin Tocar","x":3273000,"y":1.475},{"s":"Sin Tocar","x":3320000,"y":1.45},{"s":"Sin Tocar","x":3365000,"y":1.426},{"s":"Sin Tocar","x":3400000,"y":1.41},{"s":"Sin Tocar","x":3433000,"y":1.401},{"s":"Sin Tocar","x":3470000,"y":1.385},{"s":"Sin Tocar","x":3500000,"y":1.377}
    ]
  },
  "vconcat": [
    {
      "hconcat": [
        {
          "title": {"text": "470uHPellizco", "offset": 3},
          "width": 514, "height": 321,
          "data": {"name": "pellizco"},
          "mark": {"type": "line", "clip": true},
          "encoding": {
            "x": {"field": "x", "type": "quantitative", "title": null, "scale": {"domain": [-93000, 3607000], "nice": false, "zero": false},
                  "axis": {"values": [0, 500000, 1000000, 1500000, 2000000, 2500000, 3000000, 3500000], "labelExpr": "datum.value == 0 ? '0' : (datum.value < 1000000 ? format(datum.value/100000, '.2f') + '×10⁵' : format(datum.value/1000000, '.2f') + '×10⁶')"}},
            "y": {"field": "y", "type": "quantitative", "title": null, "scale": {"domain": [0.818, 2.6456], "nice": false, "zero": false},
                  "axis": {"values": [1.0, 1.2, 1.4, 1.6, 1.8, 2.0, 2.2, 2.4, 2.6], "format": ".1f"}},
            "color": {"field": "s", "type": "nominal", "title": null,
                      "scale": {"domain": ["Pellizco_FNormal", "Pellizco_FFuerte", "Pellizco_FSuave"], "range": ["#009AFA", "#E36F47", "#3EA44E"]}}
          }
        },
        {
          "title": {"text": "470uHTocarConUnDedo", "offset": 8},
          "width": 518, "height": 317,
          "data": {"name": "tocar"},
          "mark": {"type": "line", "clip": true},
          "encoding": {
            "x": {"field": "x", "type": "quantitative", "title": null, "scale": {"domain": [-90000, 3610000], "nice": false, "zero": false},
                  "axis": {"values": [0, 500000, 1000000, 1500000, 2000000, 2500000, 3000000, 3500000], "labelExpr": "datum.value == 0 ? '0' : (datum.value < 1000000 ? format(datum.value/100000, '.2f') + '×10⁵' : format(datum.value/1000000, '.2f') + '×10⁶')"}},
            "y": {"field": "y", "type": "quantitative", "title": null, "scale": {"domain": [0.662, 2.612], "nice": false, "zero": false},
                  "axis": {"values": [0.8, 1.0, 1.2, 1.4, 1.6, 1.8, 2.0, 2.2, 2.4, 2.6], "format": ".1f"}},
            "color": {"field": "s", "type": "nominal", "title": null,
                      "scale": {"domain": ["TocarConundedo_FNormal", "TocarConundedo_FFuerte", "TocarConundedo_FSuave"], "range": ["#009AFA", "#E36F47", "#3EA44E"]}}
          }
        }
      ],
      "spacing": 12,
      "resolve": {"scale": {"x": "independent", "y": "independent", "color": "independent"}, "legend": {"color": "independent"}}
    },
    {
      "title": {"text": "470uHSinTocar", "offset": 7},
      "width": 539, "height": 330,
      "data": {"name": "sin"},
      "mark": {"type": "line", "clip": true},
      "encoding": {
        "x": {"field": "x", "type": "quantitative", "title": null, "scale": {"domain": [-90000, 3610000], "nice": false, "zero": false},
              "axis": {"values": [0, 500000, 1000000, 1500000, 2000000, 2500000, 3000000, 3500000], "labelExpr": "datum.value == 0 ? '0' : (datum.value < 1000000 ? format(datum.value/100000, '.2f') + '×10⁵' : format(datum.value/1000000, '.2f') + '×10⁶')"}},
        "y": {"field": "y", "type": "quantitative", "title": " ", "scale": {"domain": [0.193, 2.632], "nice": false, "zero": false},
              "axis": {"values": [0.2, 0.4, 0.6, 0.8, 1.0, 1.2, 1.4, 1.6, 1.8, 2.0, 2.2, 2.4, 2.6], "format": ".1f", "titleFontSize": 10, "titlePadding": 10}},
        "color": {"field": "s", "type": "nominal", "title": null,
                  "scale": {"domain": ["Sin Tocar"], "range": ["#009AFA"]}}
      }
    }
  ],
  "spacing": 65,
  "center": true,
  "resolve": {"scale": {"x": "independent", "y": "independent", "color": "independent"}, "legend": {"color": "independent"}}
}
